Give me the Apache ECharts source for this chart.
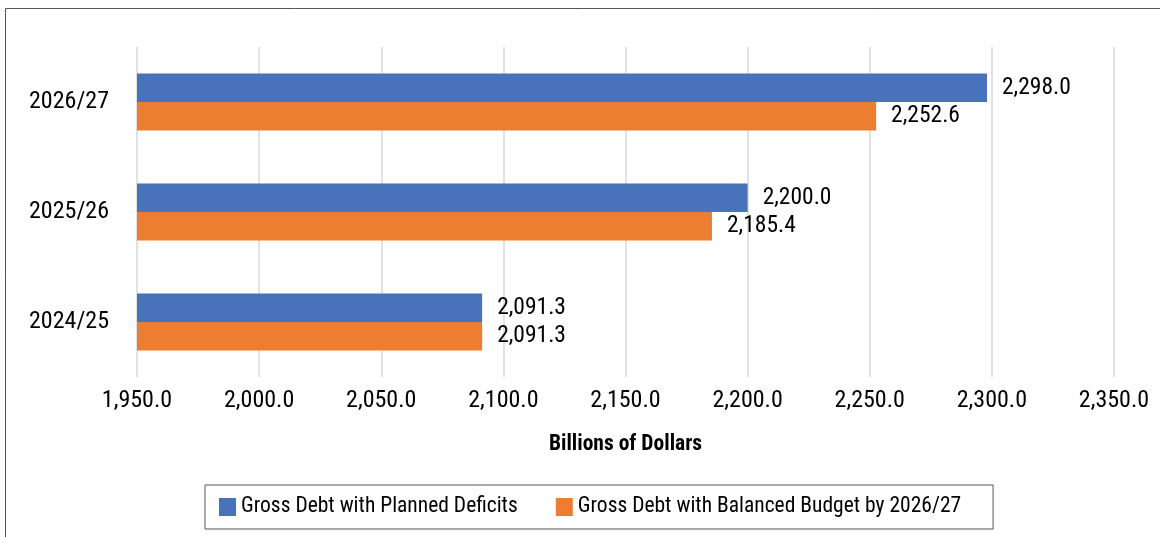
<!DOCTYPE html>
<html>
<head>
<meta charset="utf-8">
<script src="https://cdn.jsdelivr.net/npm/echarts@6/dist/echarts.min.js"></script>
<style>
    html, body {margin: 0; padding: 0; background: #fff;}
    #chart {width: 1160px; height: 537px;}
</style>
</head>
<body>
<div id="chart"></div>
<script>
    // data
    var categories = ['2024/25', '2025/26', '2026/27'];
    var plannedDeficits = [2091.3, 2200.0, 2298.0];
    var balancedBudget = [2091.3, 2185.4, 2252.6];
    var seriesNames = ['Gross Debt with Planned Deficits', 'Gross Debt with Balanced Budget by 2026/27'];
    var axisMin = 1950, axisMax = 2350, axisStep = 50;

    var font = "'Roboto Condensed', 'Liberation Sans Narrow', Roboto, sans-serif";

    function fmt(v) {
        return Number(v).toLocaleString('en-US', {minimumFractionDigits: 1, maximumFractionDigits: 1});
    }

    var myChart = echarts.init(document.getElementById('chart'));
    var option = {
        animation: false,
        textStyle: {fontFamily: font, color: '#000'},
        graphic: [{
            type: 'rect',
            shape: {x: 5.5, y: 8.5, width: 1180, height: 560},
            style: {fill: 'none', stroke: '#555', lineWidth: 1}
        }],
        grid: {left: 137, right: 46, top: 47, bottom: 160},
        legend: {
            bottom: 8,
            left: 205,
            itemWidth: 17,
            itemHeight: 18,
            itemGap: 38,
            padding: [11, 32, 11, 14],
            borderColor: '#555',
            borderWidth: 1,
            icon: 'rect',
            textStyle: {fontFamily: font, fontSize: 21.5, color: '#000'},
            data: seriesNames
        },
        xAxis: {
            type: 'value',
            min: axisMin,
            max: axisMax,
            interval: axisStep,
            name: 'Billions of Dollars',
            nameLocation: 'middle',
            nameGap: 57,
            nameTextStyle: {fontFamily: font, fontSize: 21.5, fontWeight: 'bold', color: '#000'},
            axisLine: {show: false},
            axisTick: {show: false},
            axisLabel: {fontSize: 24, color: '#000', margin: 12, formatter: fmt},
            splitLine: {lineStyle: {color: '#d9d9d9', width: 1.5}}
        },
        yAxis: {
            type: 'category',
            data: categories,
            axisLine: {show: false},
            axisTick: {show: false},
            axisLabel: {fontSize: 24, color: '#000', margin: 28}
        },
        series: [
            {
                name: seriesNames[0],
                type: 'bar',
                data: plannedDeficits,
                barGap: '0%',
                barCategoryGap: '48%',
                itemStyle: {color: '#4873BA'},
                label: {show: true, position: 'right', distance: 15, fontSize: 23.5, color: '#000', formatter: function (p) { return fmt(p.value); }}
            },
            {
                name: seriesNames[1],
                type: 'bar',
                data: balancedBudget,
                barGap: '0%',
                barCategoryGap: '48%',
                itemStyle: {color: '#ED7D31'},
                label: {show: true, position: 'right', distance: 15, fontSize: 23.5, color: '#000', formatter: function (p) { return fmt(p.value); }}
            }
        ]
    };
    myChart.setOption(option);
</script>
</body>
</html>
